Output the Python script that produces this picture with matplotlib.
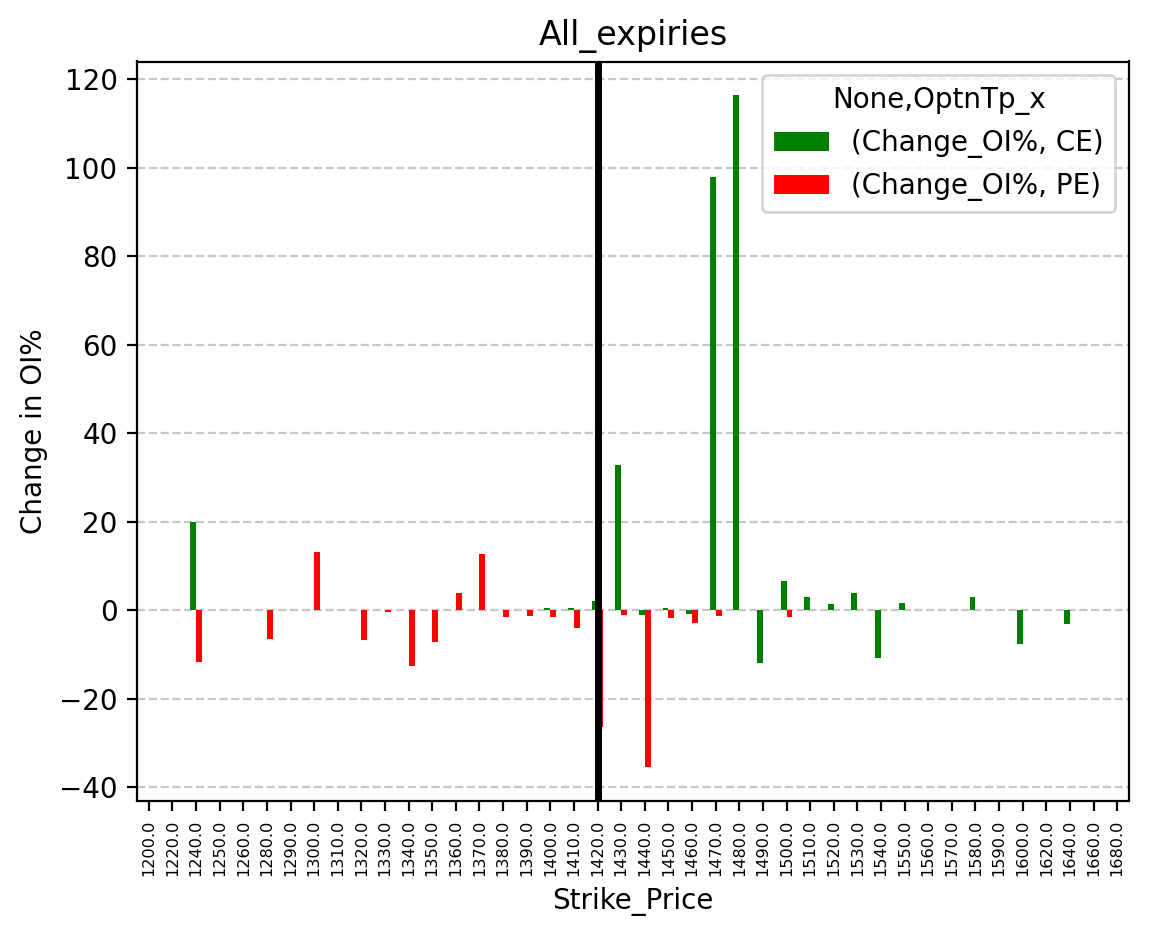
import numpy as np
import matplotlib
matplotlib.use("Agg")
import matplotlib.pyplot as plt

nan = np.nan
strikes = [1200, 1220, 1240, 1250, 1260, 1280, 1290, 1300, 1310, 1320,
           1330, 1340, 1350, 1360, 1370, 1380, 1390, 1400, 1410, 1420,
           1430, 1440, 1450, 1460, 1470, 1480, 1490, 1500, 1510, 1520,
           1530, 1540, 1550, 1560, 1570, 1580, 1590, 1600, 1620, 1640,
           1660, 1680]

ce_change = [nan, nan, 20.0, nan, nan, nan, nan, nan, nan, nan,
             nan, nan, nan, nan, nan, nan, nan, 0.6, 0.4, 2.0,
             32.9, -1.1, 0.4, -0.9, 97.9, 116.4, -12.0, 6.5, 2.9, 1.3,
             4.0, -10.8, 1.7, nan, nan, 2.9, nan, -7.7, nan, -3.2,
             nan, nan]

pe_change = [nan, nan, -11.7, nan, nan, -6.6, nan, 13.2, nan, -6.8,
             -0.5, -12.6, -7.2, 3.8, 12.8, -1.6, -1.4, -1.6, -4.1, -26.4,
             -1.1, -35.4, -1.8, -2.9, -1.4, nan, nan, -1.6, nan, nan,
             nan, nan, nan, nan, nan, nan, nan, nan, nan, nan,
             nan, nan]

tick_labels = [f"{float(s):.1f}" for s in strikes]
spot_strike = 1420
series_labels = ["(Change_OI%, CE)", "(Change_OI%, PE)"]

fig = plt.figure(figsize=(1149 / 200, 939 / 200), dpi=200)
ax = fig.add_axes([137 / 1149, 1 - 800.5 / 939, (1129 - 137) / 1149, (800.5 - 61.5) / 939])

x = np.arange(len(strikes))
w = 0.25
ax.bar(x - w / 2, ce_change, width=w, color="green", label=series_labels[0])
ax.bar(x + w / 2, pe_change, width=w, color="red", label=series_labels[1])
ax.set_xlim(-0.5, len(strikes) - 0.5)
ax.set_xticks(x)
ax.set_xticklabels(tick_labels, rotation=90, fontsize=5.8)

ax.axvline(strikes.index(spot_strike), color="black", linewidth=2.5)
ax.grid(axis="y", linestyle="--", alpha=0.7)
ax.set_axisbelow(True)

ax.set_title("All_expiries", fontsize=12)
ax.set_xlabel("Strike_Price")
ax.set_ylabel("Change in OI%")
ax.legend(title="None,OptnTp_x", loc="upper right")

fig.savefig("out.png", dpi=200)
